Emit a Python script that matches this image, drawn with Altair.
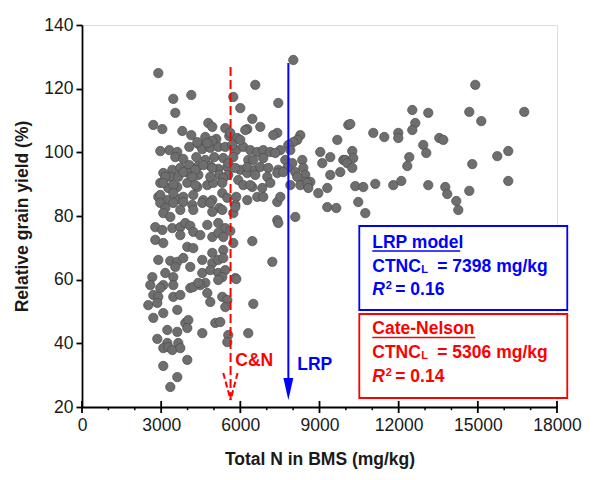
import altair as alt
import pandas as pd

# Scatter data (Total N in BMS, mg/kg ; relative grain yield, %)
x_vals = [
    2891, 3459, 4141, 3535, 2702, 3043, 5733, 5998, 4786, 4937, 3800, 4141, 5430, 5581, 6263, 4672, 5089,
    2967, 3308, 3611, 4066, 4407, 4558, 4861, 5164, 4937, 5846, 6112, 3535, 3838, 4331, 4672, 5013, 5354,
    5733, 3080, 3422, 3725, 4066, 4407, 4861, 5164, 5505, 5998, 6301, 3346, 3649, 4028, 4407, 5202, 5543, 6263,
    5619, 6453, 6756, 4369, 4748, 5430, 5884, 6377, 6642, 3156, 3838, 4293, 4596, 4937, 5543, 5808, 6263, 6566,
    2967, 3270, 3611, 3990, 4369, 4748, 4975, 5354, 5922, 6112, 6453, 2891, 3232, 3611, 3838, 4217, 4596, 4937,
    5316, 5505, 5846, 6263, 6642,
    4179, 4861, 3080, 3459, 4293, 5316, 2967, 3459, 2967, 3156, 3459, 3838, 4179, 4558, 4861, 5202, 5808, 3080,
    3346, 3725, 4217, 4937, 5316, 5733, 2777, 3043, 3422, 3725, 3914, 4103, 4217, 4482, 4748, 5164, 5430, 5619,
    3725, 4937, 5164, 5354, 2777, 3080, 3990, 4217, 4937, 5354, 5733, 2891, 3346, 3611, 3535, 3838, 4103, 4558,
    4937, 5164, 5354, 2664, 3156, 3459, 4558, 4861, 5164, 5430, 5808, 4672, 4482, 2588, 3080, 3459, 4103, 5316,
    2967, 4217, 4407, 5164, 2702, 2891, 3459, 3725, 4748, 4861, 5316, 5505, 2512, 2853, 3611, 5430, 2702, 3080,
    3914, 4028, 3990, 5051, 5240, 3232, 3611, 4558, 5543, 5505, 6301, 2853, 3232, 3080, 3270, 3422, 3649, 3725,
    3990, 3080, 3611, 3346,
    8007, 6566, 7438, 6187, 7400, 7249, 8272, 8158, 8007, 5998, 5695, 6869, 7135, 7514, 7817, 7893, 9674, 10091,
    6491, 6869, 7324, 7703, 7969, 8347, 6756, 7059, 7438, 7779, 8082, 8385, 8461, 9029, 9408, 9105, 9901, 6566,
    7021, 7400, 7628, 8158, 8461, 8651, 9408, 9787, 6377, 7135, 8272, 9295, 6832, 7893, 8537, 8575, 6869, 7400,
    7514, 8954, 5808, 9295, 9636, 7400, 7438, 8082, 6453, 7211, 5846, 6491,
    14903, 12516, 13122, 14676, 15130, 16759, 10166, 11038, 11455, 11985, 11985, 12629, 12516, 13539, 13690,
    12932, 13046, 10242, 9977, 10280, 10053, 10242, 12402, 12326, 14789, 15736, 16153, 10356, 10659, 11114,
    11796, 12099, 13122, 13766, 13842, 14183, 14259, 14676, 16153, 10469, 10735,
]
y_vals = [
    124.9, 116.8, 118.0, 112.4, 108.6, 107.3, 117.4, 113.9, 109.2, 108.0, 106.7, 105.4, 107.6, 105.1, 107.3, 104.8, 104.2,
    100.4, 100.7, 100.1, 101.7, 102.6, 101.0, 101.4, 101.7, 103.6, 100.7, 101.7, 98.5, 97.9, 98.5, 97.6, 98.5, 98.2,
    98.5, 93.5, 94.5, 95.1, 96.0, 95.7, 95.7, 94.8, 95.4, 94.5, 97.6, 92.3, 92.3, 93.5, 92.9, 92.9, 92.9, 93.5,
    106.1, 110.5, 108.0, 103.2, 102.9, 101.7, 104.5, 100.7, 100.1, 92.3, 93.8, 94.5, 96.0, 95.1, 96.6, 95.1, 95.4, 94.5,
    90.4, 88.8, 89.1, 90.4, 89.1, 89.7, 90.4, 91.9, 91.3, 89.7, 89.1, 86.0, 85.0, 85.3, 86.0, 86.6, 85.0, 85.0,
    87.2, 85.7, 86.0, 85.0, 86.0,
    92.3, 92.3, 90.4, 89.7, 89.7, 90.4, 86.6, 87.2, 84.1, 82.5, 84.1, 84.4, 83.5, 84.1, 84.1, 82.5, 83.5, 80.9,
    79.7, 81.9, 81.9, 81.3, 81.9, 80.9, 76.5, 75.6, 76.2, 76.5, 77.8, 76.9, 75.0, 74.0, 77.2, 77.8, 76.2, 75.3,
    74.0, 73.4, 74.7, 73.4, 72.5, 71.5, 70.3, 69.9, 68.4, 69.3, 71.5, 66.2, 65.9, 65.6, 64.0, 66.8, 64.0, 66.2,
    65.2, 66.2, 66.8, 60.8, 62.1, 60.8, 62.1, 63.0, 62.1, 63.0, 60.5, 59.0, 58.3, 58.3, 58.3, 58.3, 57.4, 60.8,
    57.4, 57.7, 59.0, 59.9, 55.2, 54.6, 54.6, 55.2, 55.8, 53.0, 54.6, 53.6, 52.0, 52.7, 50.5, 51.4, 48.0, 49.5,
    46.4, 47.3, 44.8, 46.4, 46.7, 44.2, 43.6, 43.2, 42.6, 40.4, 43.2, 41.4, 40.1, 38.5, 38.8, 37.9, 40.1, 38.5,
    34.8, 32.9, 29.4, 26.3,
    129.0, 121.2, 115.5, 107.0, 106.1, 105.4, 105.4, 103.9, 103.2, 103.9, 102.3, 100.7, 100.1, 100.7, 102.3, 100.7, 103.9, 108.6,
    97.6, 98.2, 99.8, 97.6, 96.6, 97.6, 95.4, 95.1, 94.5, 95.1, 93.8, 95.1, 92.9, 100.1, 98.5, 96.6, 97.6, 92.9,
    92.3, 93.5, 93.8, 92.3, 90.7, 90.7, 92.9, 93.8, 89.7, 90.4, 89.7, 88.8, 88.8, 89.7, 90.4, 88.8, 86.0, 84.4,
    86.0, 87.2, 82.8, 82.8, 82.5, 78.7, 77.8, 79.7, 72.1, 65.6, 60.2, 52.4,
    121.2, 113.3, 112.4, 112.7, 109.8, 112.7, 108.9, 106.1, 104.8, 106.1, 104.5, 109.2, 107.0, 104.5, 103.9,
    102.3, 99.8, 100.4, 97.6, 98.2, 96.6, 95.1, 98.5, 95.7, 96.3, 98.8, 100.4, 89.4, 89.1, 90.1,
    89.7, 91.0, 89.7, 89.1, 86.9, 84.7, 81.9, 87.9, 91.0, 84.4, 80.9,
]

x_major = [0, 3000, 6000, 9000, 12000, 15000, 18000]
x_minor = [1000, 2000, 4000, 5000, 7000, 8000, 10000, 11000, 13000, 14000, 16000, 17000]
y_ticks = [20, 40, 60, 80, 100, 120, 140]

# Critical values as drawn
cn_x = 5630
lrp_x = 7820

FONT = "Liberation Sans"
TXT = "#1a1a1a"

df = pd.DataFrame({"n": x_vals, "y": y_vals})

xs = alt.Scale(domain=[0, 18000], nice=False, zero=False)
ys = alt.Scale(domain=[20, 140], nice=False, zero=False)

points = alt.Chart(df).mark_point(
    filled=True, shape="circle", size=88, fill="#6e6e6e", stroke="#4d4d4d",
    strokeWidth=0.7, opacity=1
).encode(
    x=alt.X("n:Q", scale=xs, axis=alt.Axis(
        values=x_major, format="d", title="Total N in BMS (mg/kg)", ticks=False,
        labelFontSize=17.5, labelFont=FONT, labelColor=TXT, labelPadding=9,
        titleFont=FONT, titleFontSize=17.5, titleFontWeight="bold", titleColor=TXT, titlePadding=17,
        grid=False, domainColor="black", domainWidth=1.8,
        labelFlush=False, labelOverlap=False)),
    y=alt.Y("y:Q", scale=ys, axis=alt.Axis(
        values=y_ticks, format="d", title="Relative grain yield (%)",
        tickSize=6, labelFontSize=17.5, labelFont=FONT, labelColor=TXT, labelPadding=3,
        titleFont=FONT, titleFontSize=17.5, titleFontWeight="bold", titleColor=TXT, titlePadding=12,
        grid=False, domainColor="black", domainWidth=1.8, tickColor="black", tickWidth=1.8,
        labelFlush=False)),
)

# x-axis ticks: major ticks cross the axis, minor ticks hang below it
major_ticks = alt.Chart(pd.DataFrame({"x": x_major})).mark_rule(
    color="black", strokeWidth=1.8
).encode(x="x:Q", y=alt.datum(21.9), y2=alt.datum(18.1))
minor_ticks = alt.Chart(pd.DataFrame({"x": x_minor})).mark_rule(
    color="black", strokeWidth=1.5
).encode(x="x:Q", y=alt.datum(20), y2=alt.datum(19.0))

# Cate-Nelson dashed line with open dashed arrowhead
cn_line = alt.Chart(pd.DataFrame({"x": [cn_x], "y": [126.8], "y2": [22.2]})).mark_rule(
    color="#ff0000", strokeWidth=2, strokeDash=[9, 4]
).encode(x="x:Q", y="y:Q", y2="y2:Q")

cn_head = alt.Chart(pd.DataFrame({
    "x": [5353, 5896], "x2": [cn_x, cn_x], "y": [30.7, 30.7], "y2": [22.2, 22.2]
})).mark_rule(color="#ff0000", strokeWidth=2, strokeDash=[6, 3]).encode(
    x="x:Q", x2="x2:Q", y="y:Q", y2="y2:Q")

# LRP solid line with filled arrowhead
lrp_line = alt.Chart(pd.DataFrame({"x": [lrp_x], "y": [128.1], "y2": [27.0]})).mark_rule(
    color="#0000ff", strokeWidth=2
).encode(x="x:Q", y="y:Q", y2="y2:Q")

lrp_head = alt.Chart(pd.DataFrame({"x": [lrp_x], "y": [25.65]})).mark_point(
    shape="M-0.45,-1L0.45,-1L0,1Z", size=484, filled=True, fill="#0000ff", opacity=1
).encode(x="x:Q", y="y:Q")

cn_label = alt.Chart(pd.DataFrame({"x": [5809], "y": [34.5], "t": ["C&N"]})).mark_text(
    font=FONT, fontSize=17.5, fontWeight="bold", color="#ff0000", align="left", baseline="middle"
).encode(x="x:Q", y="y:Q", text="t:N")

lrp_label = alt.Chart(pd.DataFrame({"x": [8158], "y": [33.3], "t": ["LRP"]})).mark_text(
    font=FONT, fontSize=17.5, fontWeight="bold", color="#0000ff", align="left", baseline="middle"
).encode(x="x:Q", y="y:Q", text="t:N")

# Annotation boxes
boxes = alt.Chart(pd.DataFrame({
    "x": [10508, 10508], "x2": [18389, 18389], "y": [76.86, 49.21], "y2": [50.47, 22.83],
    "c": ["#0000ff", "#ff0000"]
})).mark_rect(fill="white", strokeWidth=1.8).encode(
    x="x:Q", x2="x2:Q", y="y:Q", y2="y2:Q",
    stroke=alt.Stroke("c:N", scale=None))


def txt(df_, color, size=17.5, style="normal"):
    return alt.Chart(df_).mark_text(
        font=FONT, fontSize=size, fontWeight="bold", fontStyle=style, color=color,
        align="left", baseline="middle"
    ).encode(x="x:Q", y="y:Q", text="t:N")


def box_text(color, title, value, r2, y1, y2, y3):
    main = txt(pd.DataFrame({
        "x": [11000, 11000, 13463, 11872],
        "y": [y1, y2, y2, y3],
        "t": [title, "CTNC", "= " + value + " mg/kg", "= " + r2],
    }), color)
    sub = txt(pd.DataFrame({"x": [12855], "y": [y2 - 1.0], "t": ["L"]}), color, size=11)
    rr = txt(pd.DataFrame({"x": [11000], "y": [y3], "t": ["R"]}), color, style="italic")
    sup = txt(pd.DataFrame({"x": [11510], "y": [y3 + 1.3], "t": ["2"]}), color, size=11)
    return main + sub + rr + sup


blue_text = box_text("#0000ff", "LRP model", "7398", "0.16", 71.6, 64.07, 56.75)
red_text = box_text("#ff0000", "Cate-Nelson", "5306", "0.14", 44.41, 36.87, 29.52)

underlines = alt.Chart(pd.DataFrame({
    "x": [11000, 11000], "x2": [14334, 14903], "y": [69.0, 41.8], "c": ["#0000ff", "#ff0000"]
})).mark_rule(strokeWidth=1.5).encode(
    x="x:Q", x2="x2:Q", y="y:Q", color=alt.Color("c:N", scale=None))

chart = alt.layer(
    points, major_ticks, minor_ticks, cn_line, cn_head, lrp_line, lrp_head, cn_label, lrp_label,
    boxes, blue_text, red_text, underlines
).properties(
    width=475, height=382,
    autosize=alt.AutoSizeParams(type="none"),
    padding={"left": 82, "top": 25, "right": 46, "bottom": 73},
).configure_view(
    stroke="black", strokeWidth=1.8
).configure(background="white")

chart.save("out.html", embed_options={"renderer": "svg", "actions": False})
